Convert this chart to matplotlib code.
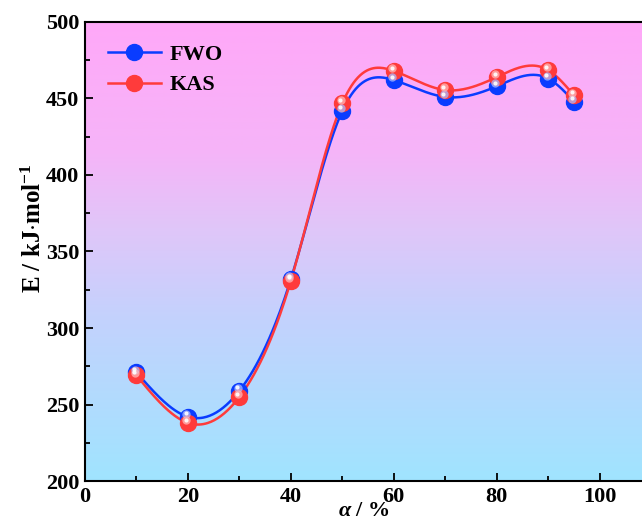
import numpy as np
import matplotlib
matplotlib.use("Agg")
import matplotlib.pyplot as plt
from matplotlib.ticker import MultipleLocator
from matplotlib.colors import LinearSegmentedColormap
import matplotlib.transforms as mtransforms

plt.rcParams['font.family'] = ['Liberation Serif', 'DejaVu Serif']
plt.rcParams['font.weight'] = 'bold'
plt.rcParams['axes.labelweight'] = 'bold'
plt.rcParams['mathtext.fontset'] = 'custom'
plt.rcParams['mathtext.rm'] = 'Liberation Serif:bold'
plt.rcParams['mathtext.bf'] = 'Liberation Serif:bold'
plt.rcParams['mathtext.it'] = 'Liberation Serif:italic:bold'

alpha = [10, 20, 30, 40, 50, 60, 70, 80, 90, 95]
fwo = [271, 242, 259, 332, 442, 462, 451, 458, 463, 448]
kas = [269, 238, 255, 331, 447, 468, 455.5, 464, 468.5, 452]


def natural_spline(x, y, n=400):
    x = np.asarray(x, float)
    y = np.asarray(y, float)
    m = len(x)
    h = np.diff(x)
    A = np.zeros((m, m))
    b = np.zeros(m)
    A[0, 0] = A[-1, -1] = 1
    for i in range(1, m - 1):
        A[i, i - 1] = h[i - 1]
        A[i, i] = 2 * (h[i - 1] + h[i])
        A[i, i + 1] = h[i]
        b[i] = 6 * ((y[i + 1] - y[i]) / h[i] - (y[i] - y[i - 1]) / h[i - 1])
    M = np.linalg.solve(A, b)
    xs = np.linspace(x[0], x[-1], n)
    idx = np.clip(np.searchsorted(x, xs) - 1, 0, m - 2)
    x0, x1 = x[idx], x[idx + 1]
    hh = x1 - x0
    t0, t1 = x1 - xs, xs - x0
    ys = (M[idx] * t0 ** 3 + M[idx + 1] * t1 ** 3) / (6 * hh) \
        + (y[idx] / hh - M[idx] * hh / 6) * t0 \
        + (y[idx + 1] / hh - M[idx + 1] * hh / 6) * t1
    return xs, ys


fig = plt.figure(figsize=(6.42, 5.22), dpi=100)
ax = fig.add_axes([0.1324, 0.0785, 0.8676, 0.8794])
ax.set_xlim(0, 108.2)
ax.set_ylim(200, 500)

# background gradient (bottom -> top)
cmap = LinearSegmentedColormap.from_list(
    'bg', [(0.0, '#a0e4ff'), (0.35, '#c3d2fd'), (0.55, '#e0c6f9'),
           (0.72, '#f6b4f8'), (1.0, '#ffa8f8')])
grad = np.linspace(0, 1, 256).reshape(-1, 1)
ax.imshow(grad, cmap=cmap, aspect='auto', origin='lower',
          extent=[0, 108.2, 200, 500], zorder=0)


def sphere_series(x, y, color, light, label):
    xs, ys = natural_spline(x, y)
    ax.plot(xs, ys, color=color, lw=1.8, zorder=2)
    ax.plot(x, y, 'o', color=color, ms=11.5, mec=color, zorder=3)
    off = mtransforms.offset_copy(ax.transData, fig=fig, x=-1.2, y=2.0, units='points')
    ax.plot(x, y, 'o', color=light, ms=6, mec='none', alpha=0.75, transform=off, zorder=4)
    off2 = mtransforms.offset_copy(ax.transData, fig=fig, x=-1.5, y=2.4, units='points')
    ax.plot(x, y, 'o', color='white', ms=3, mec='none', alpha=0.9, transform=off2, zorder=5)
    h, = ax.plot([], [], '-o', color=color, lw=1.8, ms=11.5, label=label)
    return h


sphere_series(alpha, fwo, '#0a3cff', '#a8b8ff', 'FWO')
sphere_series(alpha, kas, '#ff3b3b', '#ffb8b8', 'KAS')

leg = ax.legend(loc='upper left', bbox_to_anchor=(0.005, 0.995), frameon=False,
                fontsize=16, handlelength=2.4, handletextpad=0.4, labelspacing=0.45)

ax.xaxis.set_major_locator(MultipleLocator(20))
ax.xaxis.set_minor_locator(MultipleLocator(10))
ax.yaxis.set_major_locator(MultipleLocator(50))
ax.yaxis.set_minor_locator(MultipleLocator(25))
ax.tick_params(which='both', direction='in', width=1.3, labelsize=16, pad=4)
ax.tick_params(which='major', length=6)
ax.tick_params(which='minor', length=3.5)
for s in ['left', 'bottom', 'top']:
    ax.spines[s].set_linewidth(1.5)
ax.spines['right'].set_visible(False)

ax.set_xlabel(r'$\mathit{\alpha}$ / %', fontsize=16, labelpad=-4)
ax.set_ylabel(r'E / kJ$\cdot$mol$^{\mathbf{-1}}$', fontsize=18)
ax.yaxis.set_label_coords(-0.07, 0.55)

fig.savefig('out.png', dpi=100)
